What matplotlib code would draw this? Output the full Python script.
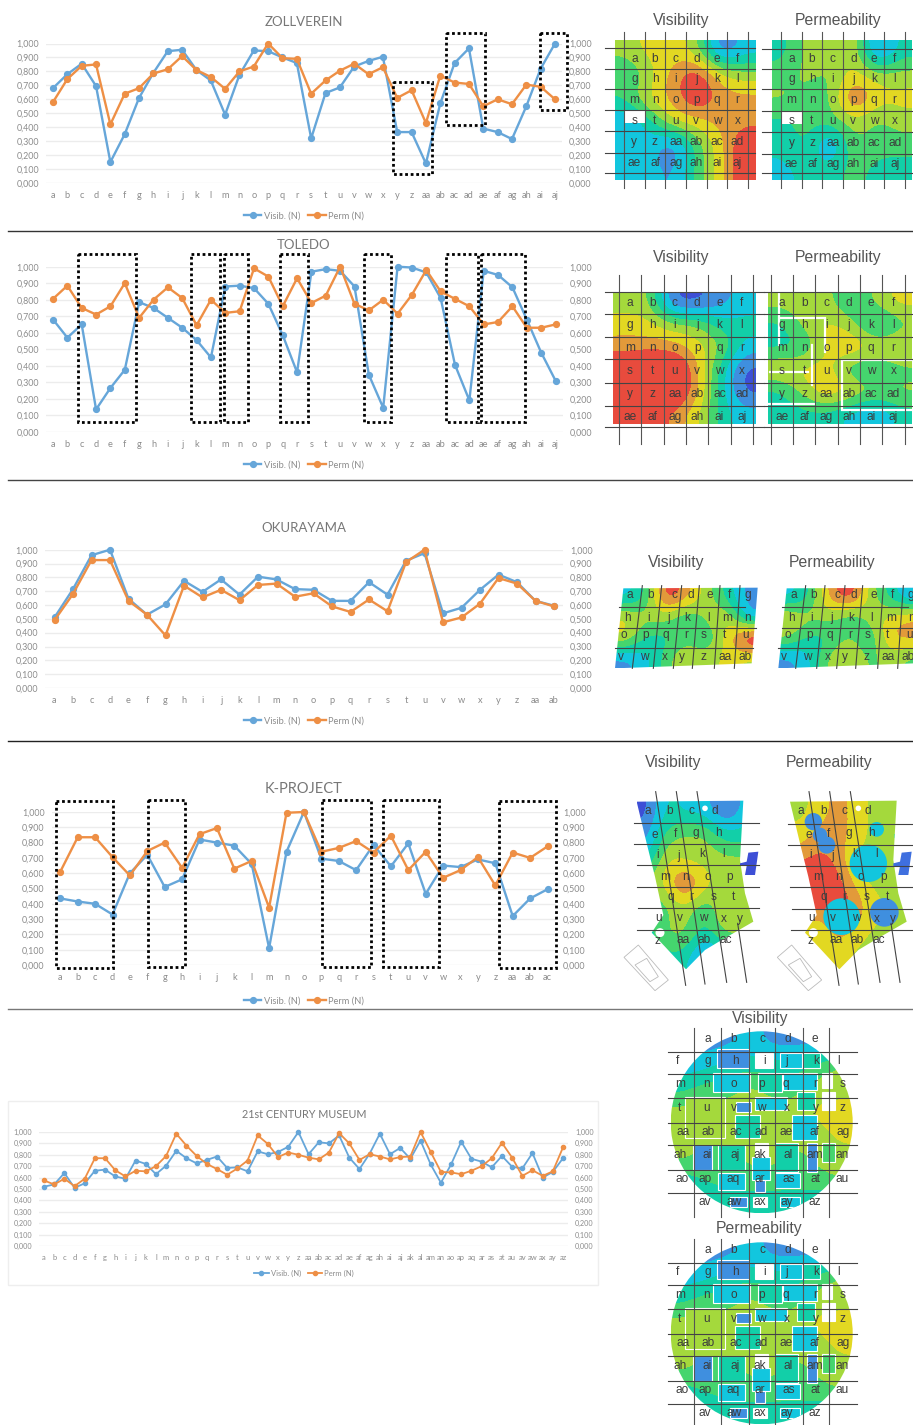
import numpy as np
import matplotlib
matplotlib.use("Agg")
import matplotlib.pyplot as plt
from matplotlib.colors import ListedColormap, BoundaryNorm
from matplotlib.patches import Polygon, Rectangle, Circle

W, H = 913, 1425
BLUE = "#66a6d9"
ORANGE = "#ee8f45"
GREY = "#8c8c8c"
LABEL = "#3c3c3c"

LETTERS = "a b c d e f g h i j k l m n o p q r s t u v w x y z".split()
LETTERS2 = ["a" + c for c in LETTERS]
ROWS_6 = [LETTERS[:6], LETTERS[6:12], LETTERS[12:18], LETTERS[18:24],
          LETTERS[24:] + LETTERS2[:4], LETTERS2[4:10]]

# --- chart values ---
zoll_vis = [.68, .78, .855, .695, .15, .35, .61, .79, .945, .955, .81, .735, .49, .775, .95, .945, .9, .86,
            .32, .645, .685, .835, .875, .905, .365, .365, .14, .57, .86, .965, .39, .365, .315, .55, .82, 1.0]
zoll_perm = [.58, .745, .84, .85, .42, .64, .68, .785, .815, .91, .81, .76, .675, .80, .835, 1.0, .895, .89,
             .64, .735, .805, .855, .78, .83, .61, .665, .43, .77, .72, .71, .55, .60, .565, .705, .69, .60]
tol_vis = [.68, .57, .65, .135, .265, .375, .785, .75, .69, .63, .555, .45, .88, .885, .87, .775, .585, .36,
           .97, .985, .975, .88, .345, .145, 1.0, .995, .965, .81, .405, .19, .975, .95, .875, .68, .48, .31]
tol_perm = [.805, .885, .75, .71, .76, .9, .69, .80, .875, .81, .645, .80, .72, .73, .99, .94, .76, .93,
            .78, .825, 1.0, .775, .735, .80, .715, .83, .98, .85, .805, .76, .65, .665, .76, .63, .63, .65]
oku_vis = [.51, .715, .96, 1.0, .645, .53, .605, .775, .695, .785, .675, .805, .785, .715, .71, .63, .63,
           .765, .675, .92, .975, .54, .58, .71, .82, .765, .63, .595]
oku_perm = [.49, .68, .925, .925, .63, .53, .38, .74, .655, .71, .635, .745, .755, .66, .685, .59, .55,
            .64, .555, .91, 1.0, .475, .51, .61, .795, .755, .63, .59]
kp_vis = [.435, .415, .40, .33, .60, .72, .51, .56, .82, .80, .78, .66, .11, .74, 1.0, .695, .68, .62, .785,
          .645, .795, .465, .65, .64, .69, .665, .32, .435, .495]
kp_perm = [.61, .835, .835, .705, .585, .745, .80, .635, .855, .895, .63, .68, .375, .995, 1.0, .74, .765,
           .81, .735, .845, .62, .74, .57, .62, .705, .52, .735, .70, .775]
mus_vis = [.52, .54, .64, .51, .55, .66, .67, .61, .59, .75, .72, .63, .705, .835, .77, .725, .755, .785, .685,
           .69, .655, .83, .805, .825, .87, 1.0, .805, .91, .90, .97, .775, .675, .81, .985, .805, .86, .765,
           .925, .715, .555, .715, .915, .765, .74, .69, .79, .695, .68, .815, .60, .65, .77]
mus_perm = [.575, .54, .59, .525, .59, .77, .77, .665, .61, .66, .655, .70, .79, .985, .88, .79, .72, .675, .625,
            .68, .75, .97, .895, .78, .82, .80, .775, .76, .82, .99, .90, .755, .805, .785, .76, .78, .785,
            1.0, .825, .65, .645, .63, .66, .70, .77, .905, .775, .615, .665, .615, .655, .865]

# --- heatmap levels, 0 blue ... 8 red, above 8 widens the red patch ---
zoll_vis_map = [[5, 6, 6, 5, 0, 2], [3, 5, 7, 9, 6, 5], [4, 6, 7, 9, 7, 7],
                [1, 3, 6, 6, 7, 7], [2, 2, 0, 4, 6, 9], [2, 2, 1, 4, 6, 9]]
zoll_perm_map = [[3, 5, 5, 6, 0, 3], [4, 5, 4, 6, 5, 5], [5, 4, 4, 9, 6, 6],
                 [3, 4, 4, 5, 4, 5], [3, 4, 0, 5, 4, 4], [2, 3, 3, 4, 3, 3]]
tol_vis_map = [[5, 5, 0, 0, 1, 2], [6, 6, 5, 5, 3, 3], [7, 7, 7, 6, 5, 2],
               [9, 10, 10, 7, 3, 0], [10, 10, 10, 7, 3, 0], [10, 9, 7, 6, 3, 2]]
tol_perm_map = [[5, 5, 5, 3, 5, 6], [3, 5, 6, 5, 2, 4], [3, 3, 6, 7, 6, 6],
                [6, 6, 6, 3, 3, 4], [3, 5, 7, 6, 5, 5], [3, 3, 3, 2, 1, 3]]
oku_vis_map = [[2, 3, 9, 7, 5, 3, 1], [6, 5, 5, 3, 5, 6, 1], [6, 3, 3, 4, 3, 6, 10], [1, 2, 4, 6, 5, 6, 5]]
oku_perm_map = [[2, 3, 7, 9, 5, 3, 1], [6, 5, 5, 3, 5, 6, 7], [5, 3, 3, 5, 3, 7, 7], [1, 2, 5, 6, 4, 5, 4]]
kp_vis_map = [[0, 3, 2, 2, 0, 2], [1, 4, 5, 5, 3, 3], [2, 6, 5, 5, 5, 5], [5, 6, 9, 6, 5, 5],
              [3, 4, 5, 3, 6, 5], [3, 5, 5, 3, 5, 5], [2, 3, 3, 0, 2, 2]]
kp_perm_map = [[5, 6, 7, 6, 5, 5], [6, 7, 7, 6, 5, 4], [7, 8, 7, 5, 5, 5], [10, 10, 8, 6, 5, 5],
               [8, 7, 9, 7, 6, 5], [6, 5, 7, 6, 5, 5], [5, 6, 6, 5, 5, 5]]
mus_map = [[1, 1, 1, 2, 1, 1, 1, 1], [2, 2, 3, 3, 3, 3, 4, 5], [3, 4, 4, 5, 4, 4, 5, 5],
           [5, 5, 5, 5, 5, 5, 6, 6], [5, 5, 5, 5, 5, 5, 5, 6], [5, 4, 4, 5, 5, 4, 5, 5],
           [3, 4, 4, 4, 4, 4, 4, 5], [1, 2, 3, 3, 3, 3, 3, 2]]

# rooms of the museum plan: x, y, w, h in crop px, level (-1 = white)
mus_rooms = [(200, 118, 98, 55, 1), (315, 130, 55, 45, -1), (390, 130, 65, 45, 2), (460, 130, 50, 45, 3),
             (190, 190, 110, 55, 2), (325, 190, 70, 55, 3), (400, 190, 100, 50, 2), (515, 190, 30, 45, -1),
             (105, 260, 120, 125, 5), (258, 275, 45, 30, 1), (315, 260, 95, 40, 2), (440, 245, 55, 55, 3),
             (515, 245, 40, 55, -1), (255, 315, 75, 70, 3), (425, 315, 75, 75, 2), (130, 405, 55, 75, 1),
             (205, 405, 80, 75, 3), (315, 400, 40, 40, -1), (305, 440, 55, 70, 2), (375, 400, 70, 85, 3),
             (470, 400, 30, 85, 1), (515, 400, 40, 55, 4), (205, 490, 80, 50, 2), (375, 490, 75, 45, 2),
             (315, 510, 30, 35, 1), (240, 560, 50, 30, 1), (310, 560, 40, 30, -1), (390, 560, 60, 30, 2)]
mus_rows = [(88, ["a", "b", "c", "d", "e"], [172, 252, 337, 412, 495]),
            (153, list("fghijkl"), [82, 172, 255, 345, 410, 498, 567]),
            (222, list("mnopqrs"), [90, 170, 250, 335, 408, 495, 577]),
            (295, list("tuvwxyz"), [90, 170, 252, 335, 410, 497, 577]),
            (365, LETTERS2[:7], [100, 175, 258, 333, 407, 493, 580]),
            (435, LETTERS2[7:14], [90, 170, 255, 328, 415, 493, 577]),
            (508, LETTERS2[14:21], [97, 165, 250, 330, 415, 497, 575]),
            (576, LETTERS2[21:26], [165, 253, 330, 410, 495])]

cmap = ListedColormap(["#3d4fd6", "#3f8fdf", "#12c6de", "#12cfa8", "#45d56e",
                       "#a4d93c", "#e2d822", "#e29a3a", "#e84b3d"])
norm = BoundaryNorm(np.arange(-0.5, 9.5), 9)

fig = plt.figure(figsize=(W / 100, H / 100), dpi=100, facecolor="white")
plt.rcParams["font.family"] = ["Lato", "DejaVu Sans"]


def line_chart(title, cats, vis, perm, x_first, x_last, y_top, y_bot, title_xy, title_size,
               legend_y, lw=1.7, ms=4.2, fs=6.4):
    n = len(cats)
    dx = (x_last - x_first) / (n - 1)
    left = (x_first - dx / 2) / W
    right = (x_last + dx / 2) / W
    ax = fig.add_axes([left, 1 - y_bot / H, right - left, (y_bot - y_top) / H])
    ax.set_xlim(-0.5, n - 0.5)
    ax.set_ylim(0, 1)
    ax.plot(range(n), vis, "-o", color=BLUE, lw=lw, ms=ms, label="Visib. (N)", clip_on=False)
    ax.plot(range(n), perm, "-o", color=ORANGE, lw=lw, ms=ms, label="Perm (N)", clip_on=False)
    ticks = np.round(np.arange(0, 1.01, 0.1), 1)
    ticklabels = [f"{t:.3f}".replace(".", ",") for t in ticks]
    ax.set_yticks(ticks, ticklabels)
    ax.set_xticks(range(n), cats)
    ax.grid(axis="y", color="#ececec", lw=1)
    ax.set_axisbelow(True)
    ax.tick_params(length=0, labelsize=fs, labelcolor=GREY, pad=5)
    ax.tick_params(axis="x", pad=6, labelsize=fs + 0.3)
    for s in ax.spines.values():
        s.set_visible(False)
    ax.patch.set_alpha(0)
    ax2 = ax.twinx()
    ax2.set_ylim(0, 1)
    ax2.set_yticks(ticks, ticklabels)
    ax2.tick_params(length=0, labelsize=fs, labelcolor=GREY, pad=5)
    for s in ax2.spines.values():
        s.set_visible(False)
    fig.text(title_xy[0] / W, 1 - title_xy[1] / H, title, ha="center", va="center",
             fontsize=title_size, color="#777777")
    ax.legend(loc="center", bbox_to_anchor=(304 / W, 1 - legend_y / H), bbox_transform=fig.transFigure,
              ncol=2, frameon=False, fontsize=fs + 0.3, labelcolor=GREY, handlelength=1.9,
              columnspacing=0.9, handletextpad=0.25, borderpad=0)
    return ax


line_chart("ZOLLVEREIN", LETTERS + LETTERS2[:10], zoll_vis, zoll_perm, 53, 555, 43.5, 183,
           (304, 22), 9.5, 216)
line_chart("TOLEDO", LETTERS + LETTERS2[:10], tol_vis, tol_perm, 53, 555.5, 266.7, 431.7,
           (304, 245), 9.5, 465)
line_chart("OKURAYAMA", LETTERS + LETTERS2[:2], oku_vis, oku_perm, 54.5, 554, 549.7, 688,
           (304, 528), 9.5, 721)
line_chart("K-PROJECT", LETTERS + LETTERS2[:3], kp_vis, kp_perm, 60.3, 547.5, 812, 965,
           (304, 789), 10.5, 1001)
line_chart("21st CENTURY MUSEUM", LETTERS + LETTERS2, mus_vis, mus_perm, 44, 563, 1132, 1246,
           (304, 1115), 7.8, 1273, lw=1.3, ms=3.0, fs=5.2)

# everything else is placed in image pixels on one overlay
ov = fig.add_axes([0, 0, 1, 1], zorder=5)
ov.set_xlim(0, W)
ov.set_ylim(H, 0)
ov.autoscale(False)
ov.axis("off")

for y, col in [(231, "#333333"), (480, "#444444"), (741, "#222222"), (1009, "#777777")]:
    ov.plot([8, 913], [y, y], color=col, lw=1.0)
ov.add_patch(Rectangle((8, 1101), 590, 184, fill=False, ec="#eeeeee", lw=1, zorder=0))

# dotted boxes around the compared stretches: x0, x1, y0, y1
boxes = [(393, 432, 82, 174), (446, 485, 33, 125), (540, 567, 33, 110),
         (78, 136, 254, 422), (191, 220, 254, 422), (224, 247.5, 254, 422), (280, 308, 254, 422),
         (364, 391, 254, 422), (445.5, 478, 254, 422), (480.5, 524.5, 254, 422),
         (55.6, 113, 801, 968), (148, 185, 800, 967), (322, 370.5, 800, 967), (383, 439, 800, 967),
         (499, 555.6, 801, 968)]
for x0, x1, y0, y1 in boxes:
    ov.add_patch(Rectangle((x0, y0), x1 - x0, y1 - y0, fill=False, ec="black", lw=2.0, ls=(0, (1, 1))))

for txt, x, y in [("Visibility", 681, 20), ("Permeability", 838, 20), ("Visibility", 681, 257),
                  ("Permeability", 838, 257), ("Visibility", 676, 562), ("Permeability", 832, 562),
                  ("Visibility", 673, 762), ("Permeability", 829, 762), ("Visibility", 760, 1019),
                  ("Permeability", 759, 1228)]:
    ov.text(x, y, txt, ha="center", va="center", fontsize=11.3, color="#555555", family="Liberation Sans")


def heat(values, extent, clip=None):
    im = ov.imshow(np.array(values, float), extent=extent, cmap=cmap, norm=norm, aspect="auto",
                   interpolation="bicubic", interpolation_stage="data", zorder=1)
    if clip is not None:
        patch = clip if hasattr(clip, "get_path") else Polygon(clip, closed=True, transform=ov.transData)
        patch.set_transform(ov.transData)
        im.set_clip_path(patch)
    return im


def label(x, y, s, fs=8.6):
    ov.text(x, y, s, ha="center", va="center", fontsize=fs, color=LABEL, family="Liberation Sans", zorder=4)


def grid_panel(values, x0, x1, y0, y1, vx, hy, v_top, v_bot, h_left, h_right, blank_s):
    heat(values, (x0, x1, y1, y0))
    for x in vx:
        ov.plot([x, x], [v_top, v_bot], color="#555555", lw=0.8, zorder=3)
    for y in hy:
        ov.plot([h_left, h_right], [y, y], color="#444444", lw=0.8, zorder=3)
    for r, row in enumerate(ROWS_6):
        for c, s in enumerate(row):
            label((vx[c] + vx[c + 1]) / 2, (hy[r] + hy[r + 1]) / 2, s)
    if blank_s:
        ov.add_patch(Rectangle((vx[0], hy[3] + 1), vx[1] - vx[0], hy[4] - hy[3] - 9, fc="white", ec="none", zorder=2))


grid_panel(zoll_vis_map, 615, 755.7, 40.7, 180, [624, 644.7, 665.3, 686, 706.7, 727.3, 747.7],
           [48, 69, 89, 110, 131, 153, 172.7], 32, 188, 605, 755, True)
grid_panel(zoll_perm_map, 771.7, 911.7, 40.7, 180, [781.3, 801.7, 822.3, 843, 863.7, 884.3, 905],
           [49, 69.3, 89, 110.7, 132, 154, 173.3], 32, 188, 762, 913, True)
grid_panel(tol_vis_map, 613, 755.7, 292.7, 424, [619, 641, 663.7, 686.3, 708.3, 730.7, 752.7],
           [292.3, 314, 336.7, 359.3, 382.7, 406, 427], 275, 444, 605, 764, False)
grid_panel(tol_perm_map, 768, 912, 292.7, 424, [770.7, 793, 815.3, 837.7, 860, 882.3, 904.7],
           [292.3, 314, 336.7, 359.3, 382.7, 406, 427], 275, 444, 764, 913, False)
# white gaps between the Toledo rooms
for xs, ys in [((779, 779), (293, 345)), ((781, 825), (318, 318)), ((770, 808), (372, 372)),
               ((812, 812), (345, 385)), ((842, 842), (362, 408)), ((842, 912), (360, 360)),
               ((768, 815), (404, 404)), ((842, 912), (410, 410)), ((825, 825), (320, 352))]:
    ov.plot(xs, ys, color="white", lw=1.6, zorder=2)

# Okurayama, a skewed plot
oku_h = [(42, 420, 185), (40, 452, 248), (30, 445, 310)]
oku_v = [(112, 82), (170, 145), (230, 205), (283, 262), (345, 328), (405, 388)]
oku_x = [[75, 137, 207, 257, 315, 372, 427], [68, 130, 190, 248, 310, 367, 428],
         [57, 123, 183, 245, 297, 358, 423], [48, 118, 180, 230, 295, 360, 420]]
oku_y = [150, 218, 270, 335]
oku_names = [LETTERS[:7], LETTERS[7:14], LETTERS[14:21], LETTERS[21:26] + LETTERS2[:2]]
for values, off in [(oku_vis_map, 0), (oku_perm_map, 490)]:
    corners = [(55, 130), (458, 128), (440, 355), (30, 370)]
    pts = [(605 + (x + off) / 3, 545 + y / 3) for x, y in corners]
    heat(values, (605 + (30 + off) / 3, 605 + (458 + off) / 3, 545 + 370 / 3, 545 + 128 / 3), pts)
    for a, b, y in oku_h:
        ov.plot([605 + (a + off) / 3, 605 + (b + off) / 3], [545 + y / 3] * 2, color="#444444", lw=0.8, zorder=3)
    for a, b in oku_v:
        ov.plot([605 + (a + off) / 3, 605 + (b + off) / 3], [545 + 122 / 3, 545 + 370 / 3], color="#444444", lw=0.8, zorder=3)
    for r, names in enumerate(oku_names):
        for c, s in enumerate(names):
            label(605 + (oku_x[r][c] + off) / 3, 545 + oku_y[r] / 3, s)

# K-project, a wedge shaped plot
kp_outline = [(95, 155), (415, 152), (405, 330), (420, 430), (445, 515), (350, 570), (300, 600),
              (243, 658), (180, 590), (140, 548), (175, 495), (150, 380), (125, 280)]
kp_names = [("a", 127, 183), ("b", 195, 183), ("c", 260, 183), ("d", 328, 183), ("e", 150, 255), ("f", 210, 252),
            ("g", 272, 250), ("h", 340, 250), ("i", 158, 315), ("j", 222, 317), ("k", 292, 313), ("l", 355, 313),
            ("m", 180, 380), ("n", 240, 380), ("o", 308, 380), ("p", 375, 380), ("q", 197, 442), ("r", 258, 442),
            ("s", 325, 442), ("t", 387, 442), ("u", 160, 505), ("v", 225, 505), ("w", 295, 505), ("x", 357, 507),
            ("y", 405, 507), ("z", 158, 572), ("aa", 233, 570), ("ab", 297, 570), ("ac", 362, 570)]
kp_slants = [(152, 125, 242, 706), (214, 125, 300, 702), (276, 125, 365, 697), (398, 520, 425, 697)]
kp_lines = [(88, 220), (88, 283), (95, 346), (95, 410), (100, 475), (97, 540)]
kp_discs = [(250, 500, 55, 2), (378, 487, 43, 1), (330, 340, 56, 2), (355, 238, 22, 2),
            (165, 215, 26, 1), (185, 255, 22, 1), (205, 285, 26, 1)]


def kx(x):
    return 605 + x / 3


def ky(y):
    return 750 + y / 3


for values, off in [(kp_vis_map, 0), (kp_perm_map, 460)]:
    pts = [(kx(x + off), ky(y)) for x, y in kp_outline]
    heat(values, (kx(95 + off), kx(445 + off), ky(658), ky(152)), pts)
    annex = [(405, 340), (425, 335), (430, 308), (460, 305), (450, 375), (420, 375), (425, 348), (405, 348)]
    ov.add_patch(Polygon([(kx(x + off), ky(y)) for x, y in annex], fc="#3d4fd6" if off == 0 else "#3f6fdf", ec="none", zorder=2))
    for a in [[(57, 622), (100, 585), (190, 690), (150, 722)], [(90, 645), (125, 625), (160, 680), (135, 695)]]:
        ov.add_patch(Polygon([(kx(x + off), ky(y)) for x, y in a], fill=False, ec="#bbbbbb", lw=0.6, zorder=2))
    if off:
        for cx, cy, r, lev in kp_discs:
            ov.add_patch(Circle((kx(cx + off), ky(cy)), r / 3, fc=cmap(lev), ec="none", zorder=2))
    ov.add_patch(Circle((kx(165 + off), ky(548)), 4.5, fc="white", ec="none", zorder=2))
    ov.add_patch(Circle((kx(300 + off), ky(175)), 2.8, fc="white", ec="none", zorder=2))
    for x0, y0, x1, y1 in kp_slants:
        ov.plot([kx(x0 + off), kx(x1 + off)], [ky(y0), ky(y1)], color="#444444", lw=0.8, zorder=3)
    for a, y in kp_lines:
        ov.plot([kx(a + off), kx(463 + off)], [ky(y + (1 if off else 0))] * 2, color="#444444", lw=0.8, zorder=3)
    for s, x, y in kp_names:
        label(kx(x + off), ky(y), s)

# 21st Century Museum, two round plans
for dy in [0, 211]:
    cx, cy = 761.7, 1122.3 + dy
    circ = Circle((cx, cy), 91, transform=ov.transData)
    heat(mus_map, (cx - 91, cx + 91, cy + 91, cy - 91), circ)
    for x, y, w, h, lev in mus_rooms:
        col = "white" if lev < 0 else cmap(lev)
        r = Rectangle((650 + x / 3, 1010 + dy + y / 3), w / 3, h / 3, fc=col, ec="white", lw=0.8, zorder=2)
        ov.add_patch(r)
        r.set_clip_path(Circle((cx, cy), 91, transform=ov.transData))
    for x in [132, 213, 296, 374, 458, 536]:
        ov.plot([650 + x / 3] * 2, [1010 + dy + 55 / 3, 1010 + dy + 620 / 3], color="#555555", lw=0.8, zorder=3)
    for y in [125, 192, 265, 338, 405, 480, 550]:
        ov.plot([650 + 55 / 3, 650 + 620 / 3], [1010 + dy + y / 3] * 2, color="#444444", lw=0.8, zorder=3)
    for y, names, xs in mus_rows:
        for s, x in zip(names, xs):
            label(650 + x / 3, 1010 + dy + y / 3, s)

fig.savefig("out.png", dpi=100, facecolor="white")
